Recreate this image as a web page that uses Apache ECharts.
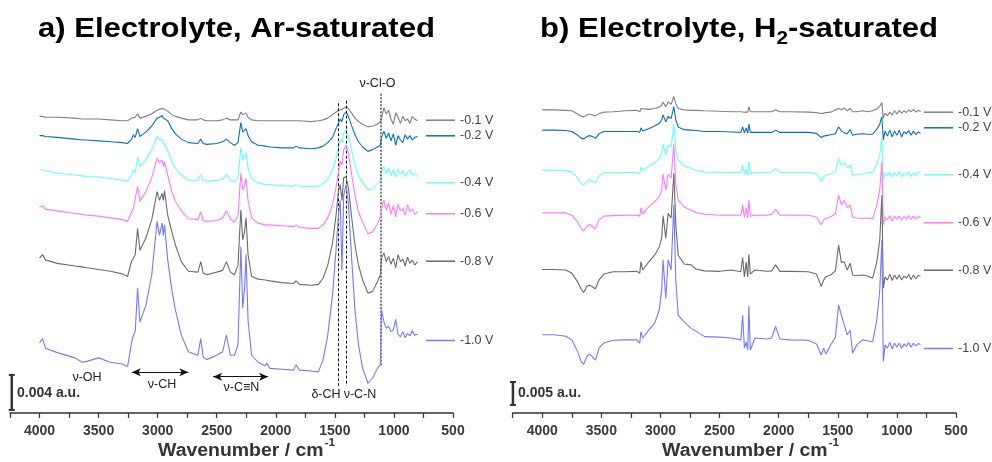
<!DOCTYPE html>
<html>
<head>
<meta charset="utf-8">
<script src="https://cdn.jsdelivr.net/npm/echarts@6/dist/echarts.min.js"></script>
<style>
  html, body { margin: 0; padding: 0; background: #fff; }
  #chart { width: 992px; height: 462px; }
</style>
</head>
<body>
<div id="chart"></div>
<script>
// ---------- Spectra data (absorbance in mAU, stacked with offsets) ----------
// a) Ar-saturated electrolyte: wavenumber grid (cm^-1)
const wnAr = [4000,3975,3950,3850,3700,3640,3600,3500,3400,3300,3255,3220,3205,3190,3170,3150,3100,3050,3005,2985,2962,2952,2942,2915,2880,2850,2800,2740,2660,2635,2615,2585,2500,2450,2418,2385,2350,2320,2296,2280,2265,2252,2235,2205,2150,2090,2076,2050,1950,1850,1828,1800,1700,1640,1600,1560,1520,1490,1470,1455,1440,1425,1405,1385,1360,1330,1300,1265,1220,1180,1140,1115,1105,1085,1065,1045,1025,1005,985,965,945,925,905,885,865,845,825,800];

const ar_m01 = [33.9,33.9,33.8,33.8,33.7,33.6,33.6,33.6,33.5,33.4,33.4,
  33.7,33.9,33.8,34.2,33.7,33.9,34.2,
  34.6,34.7,34.8,34.7,34.7,34.5,34.1,
  33.9,33.7,33.5,33.5,33.7,33.5,33.4,
  33.4,33.5,33.7,33.5,33.5,33.5,
  34.4,34.1,34.0,34.3,33.8,33.5,
  33.4,33.4,33.4,33.4,33.4,33.4,33.4,33.4,33.3,33.4,
  33.5,33.7,34.1,34.4,34.6,34.7,34.7,34.9,35.0,
  34.8,34.3,33.7,33.3,33.0,32.7,32.8,33.0,33.3,33.7,
  34.9,34.2,34.6,33.6,33.0,34.3,33.8,33.1,33.9,33.4,33.6,33.1,33.9,33.6,33.4];

const ar_m02 = [31.7,31.7,31.6,31.5,31.3,31.2,31.2,31.1,31.0,30.9,30.8,
  31.3,31.8,31.5,32.5,31.6,32.1,32.8,
  33.7,33.8,34.0,33.7,33.9,33.4,32.5,
  31.9,31.3,30.9,30.8,31.3,30.8,30.7,
  30.8,31.0,31.3,30.9,30.6,30.9,
  33.2,32.1,32.2,32.5,31.7,31.0,
  30.6,30.5,30.6,30.4,30.3,30.3,30.5,30.3,30.2,30.3,
  30.5,30.9,31.5,32.5,33.1,33.6,33.3,34.1,34.4,
  33.9,32.9,31.8,31.0,30.4,29.9,30.1,30.4,30.6,31.5,
  32.2,31.4,32.0,31.1,31.9,30.6,31.7,31.2,30.9,31.8,31.3,31.7,31.2,31.5,31.6];

const ar_m04 = [27.8,27.8,27.7,27.4,27.2,27.1,27.0,27.0,26.8,26.6,26.5,
  27.2,27.8,27.5,29.2,28.2,28.9,30.1,
  31.6,31.2,31.3,30.9,31.0,30.1,28.7,
  28.0,27.2,26.6,26.6,27.3,26.6,26.5,
  26.6,26.7,27.3,26.6,26.4,26.9,
  30.3,28.9,29.1,29.7,28.0,26.8,
  26.3,26.1,26.2,26.1,26.0,25.9,26.1,25.9,25.9,25.9,
  26.2,26.7,27.8,29.1,30.3,31.2,30.9,32.0,32.3,
  31.7,30.1,28.3,27.1,26.3,25.5,25.6,26.2,26.6,27.6,
  28.2,27.4,28.0,27.1,27.8,26.9,27.9,27.3,27.7,27.0,27.5,27.8,27.2,27.4,27.0];

const ar_m06 = [23.5,23.7,23.3,23.1,22.8,22.7,22.6,22.5,22.3,22.1,21.9,
  23.0,23.4,23.2,25.9,24.2,25.3,26.9,
  29.1,28.6,28.9,28.2,28.7,27.2,25.3,
  24.2,23.1,22.2,22.1,23.0,22.0,21.9,
  22.0,22.3,23.1,22.2,21.8,22.5,
  27.4,25.5,25.9,26.8,24.3,22.3,
  21.7,21.5,21.7,21.5,21.4,21.3,21.5,21.2,21.1,21.1,
  21.5,22.3,23.8,25.8,27.5,28.8,28.3,30.1,30.6,
  29.7,27.4,24.9,23.0,21.8,20.5,20.7,21.6,22.4,23.4,
  24.3,23.2,24.0,22.7,23.7,22.4,23.9,23.1,23.4,22.6,23.8,23.0,23.3,22.7,23.0];

const ar_m08 = [17.7,18.1,17.5,17.1,16.8,16.7,16.6,16.4,16.2,15.9,15.6,
  17.4,17.7,18.1,21.1,18.6,20.0,22.1,
  25.3,24.3,25.1,24.3,25.4,22.6,20.7,
  19.2,17.3,16.2,16.1,17.3,16.0,15.8,
  16.1,16.3,17.3,16.1,15.8,16.9,
  23.2,19.8,20.7,22.3,18.1,15.6,
  15.3,15.2,15.4,15.1,14.9,14.8,15.1,14.7,14.6,14.7,
  15.4,16.9,19.4,22.6,25.3,26.1,24.3,26.9,27.0,
  25.7,22.6,19.2,16.9,15.2,13.7,13.9,15.0,15.8,17.7,
  18.3,17.3,17.9,17.0,17.7,16.6,18.1,17.3,17.6,16.8,17.8,17.1,17.5,16.9,17.3];

const ar_m10 = [8.0,8.5,7.4,6.9,6.3,5.8,5.9,6.3,5.8,5.6,5.3,
  8.1,8.9,9.3,14.3,10.4,12.3,15.8,
  21.9,20.3,21.7,20.3,21.5,17.5,14.1,
  11.8,8.9,7.0,6.6,8.5,6.4,6.1,
  6.6,7.0,8.9,6.6,6.6,7.8,
  19.0,12.0,14.1,18.1,10.6,6.6,
  5.8,5.4,5.7,5.1,5.0,4.9,5.5,4.9,4.8,4.7,
  6.1,8.9,13.5,18.6,22.6,24.3,16.3,24.9,26.1,
  23.8,18.1,11.8,7.8,5.1,3.4,4.0,5.1,5.5,11.8,
  10.4,9.7,9.9,9.3,9.5,10.7,9.0,8.7,9.3,8.6,9.1,8.8,9.4,8.9,9.0];

// b) H2-saturated electrolyte: wavenumber grid (cm^-1)
const wnH2 = [4000,3900,3800,3750,3700,3670,3650,3620,3600,3575,3550,3520,3480,3400,3300,3200,3175,3165,3150,3100,3050,3010,2990,2978,2955,2935,2910,2887,2870,2850,2800,2740,2700,2627,2500,2400,2320,2305,2290,2275,2262,2252,2240,2200,2100,2060,2026,1990,1900,1750,1680,1640,1620,1600,1560,1520,1493,1470,1445,1420,1395,1375,1340,1290,1250,1205,1170,1145,1127,1115,1100,1080,1060,1040,1020,1000,980,960,940,920,900,880,860,840,820,800];

const h2_m01 = [65.9,65.9,65.8,65.7,65.0,64.5,64.4,64.8,65.0,64.8,
  64.6,65.1,65.4,65.5,65.7,65.8,65.5,66.2,65.8,66.0,
  66.2,66.5,66.9,67.6,66.6,67.6,67.1,68.8,67.2,66.2,
  65.9,65.8,65.8,65.7,65.6,65.5,65.5,65.9,65.4,65.8,
  65.4,66.6,65.5,65.5,65.5,65.5,65.9,65.5,65.5,65.4,
  65.3,65.1,65.2,65.3,65.4,65.9,66.2,65.9,66.3,65.7,
  66.2,65.5,65.5,65.7,65.5,65.7,66.1,66.7,67.5,64.1,
  65.2,64.6,65.4,64.8,65.7,65.0,65.8,65.2,65.7,65.3,
  65.9,65.5,66.0,65.4,65.8,65.5];

const h2_m02 = [61.5,61.5,61.4,61.2,60.4,59.7,59.6,60.1,60.3,60.1,
  59.7,60.7,61.2,61.2,61.2,61.2,61.0,62.0,61.3,61.8,
  62.4,63.0,63.7,64.8,63.3,64.5,64.0,66.6,63.7,62.2,
  61.6,61.5,61.4,61.2,61.2,61.1,61.0,62.2,60.9,62.0,
  60.8,62.8,61.0,61.0,61.0,61.0,61.5,61.0,61.0,61.0,
  60.8,59.9,60.2,60.3,60.5,60.7,62.2,61.3,60.9,60.7,
  61.6,60.4,60.6,60.7,60.6,60.6,61.7,62.8,64.4,59.4,
  61.3,60.2,61.5,60.0,61.3,60.4,61.5,60.0,61.1,60.7,
  61.4,60.4,61.3,60.5,61.1,60.8];

const h2_m04 = [52.8,52.8,52.7,52.4,51.1,49.8,49.6,50.4,50.7,50.3,
  50.1,51.5,52.2,52.3,52.3,52.3,52.1,53.5,52.6,53.7,
  54.3,55.4,56.5,58.4,56.1,58.3,57.8,62.8,57.2,55.0,
  53.7,53.2,52.7,52.4,52.3,52.3,52.3,53.9,51.9,53.0,
  51.7,54.8,52.1,52.3,52.3,52.4,53.2,52.3,52.3,52.3,
  52.0,50.4,51.3,51.7,52.0,52.4,55.4,53.9,54.4,53.3,
  53.9,51.7,51.9,51.9,52.2,52.4,54.1,56.1,59.7,50.7,
  52.2,51.5,52.4,51.3,52.2,51.6,52.4,51.3,52.1,51.7,
  52.4,51.4,52.2,51.6,52.3,52.1];

const h2_m06 = [43.5,43.5,43.5,43.0,41.5,40.0,39.6,40.7,41.0,40.5,
  40.0,42.0,42.8,42.9,43.0,43.0,42.8,44.6,43.3,44.8,
  45.9,47.0,48.3,51.9,48.5,51.9,51.1,58.4,49.6,46.3,
  44.8,44.1,43.6,43.2,43.0,43.0,43.0,45.2,42.6,44.6,
  42.4,46.3,42.8,43.0,43.0,43.2,44.3,43.0,43.0,43.0,
  42.6,40.9,42.0,42.3,42.6,43.3,47.4,45.2,46.3,44.6,
  45.2,42.6,42.4,42.3,42.4,42.2,45.2,48.5,54.6,40.9,
  42.6,42.0,42.9,41.7,42.8,42.1,42.8,41.9,42.7,42.2,
  42.9,42.1,42.8,42.2,42.7,42.5];

const h2_m08 = [31.2,31.2,31.1,30.4,28.5,26.9,26.2,27.6,27.8,27.4,
  27.0,28.9,30.2,30.7,30.7,30.8,30.4,32.9,31.1,32.8,
  34.3,36.1,38.0,42.9,38.0,43.4,42.4,52.1,40.9,34.3,
  32.4,32.2,31.3,30.9,30.8,31.1,30.7,33.8,29.6,32.8,
  29.6,34.5,30.2,31.1,30.8,30.9,32.2,30.8,30.8,30.7,
  30.2,27.5,28.9,29.6,30.0,30.9,36.5,32.8,32.8,31.1,
  32.6,30.0,29.9,30.0,29.8,29.3,32.8,37.6,47.4,27.1,
  29.6,28.9,30.2,28.8,30.0,29.1,30.0,28.9,29.8,29.3,
  30.1,29.0,30.0,29.2,29.9,29.8];

const h2_m10 = [17.0,17.0,16.7,15.9,13.3,11.1,10.6,12.4,12.8,12.2,
  11.5,14.1,15.2,15.8,15.9,15.9,15.2,17.7,16.3,18.0,
  19.5,22.4,26.7,33.3,24.9,33.3,31.1,45.2,28.9,21.3,
  19.8,18.4,17.8,16.6,16.5,16.3,15.9,21.3,14.1,15.4,
  13.7,23.3,13.7,16.3,16.1,16.3,18.8,16.1,15.9,15.8,
  15.0,12.6,14.1,12.8,14.8,16.5,23.5,21.3,19.1,17.0,
  18.0,13.0,14.8,15.9,15.7,15.5,20.2,26.7,37.6,11.2,
  14.8,14.1,15.4,13.9,15.2,14.3,15.2,14.1,15.0,14.5,
  15.3,14.3,15.2,14.6,15.1,14.9];

// Potentials (legend labels)
const potentials = ['-0.1 V', '-0.2 V', '-0.4 V', '-0.6 V', '-0.8 V', '-1.0 V'];
const arSpectra = [ar_m01, ar_m02, ar_m04, ar_m06, ar_m08, ar_m10];
const h2Spectra = [h2_m01, h2_m02, h2_m04, h2_m06, h2_m08, h2_m10];

// Band marker positions (cm^-1) and scale-bar lengths (mAU)
const bandDeltaCH = 1470, bandNuCN = 1402, bandNuClO = 1108;
const scaleAr = 4, scaleH2 = 5;

// ---------- Styling / layout ----------
const FONT = '"Liberation Sans", Arial, Helvetica, sans-serif';
const colors = ['#808080', '#0a72b8', '#66ffff', '#ff77ff', '#6b6b6b', '#7777ff'];
const legendMidAr = [120.7, 136.3, 183.3, 214.3, 261.7, 341];
const legendMidH2 = [112.7, 128.3, 175.3, 223.3, 270.7, 349];

const ctx = document.createElement('canvas').getContext('2d');
function textWidth(str, font) { ctx.font = font; return ctx.measureText(str).width; }

function xAxisFor(i) {
  return {
    gridIndex: i, type: 'value', min: 500, max: 4250, interval: 250, inverse: true,
    axisLine: { show: true, onZero: false, lineStyle: { color: '#333', width: 1.5 } },
    axisTick: { show: true, inside: false, length: 5, lineStyle: { color: '#333', width: 1.2 } },
    minorTick: { show: false },
    splitLine: { show: false },
    axisLabel: {
      margin: 11, color: '#3a3a3a', fontWeight: 'bold', fontSize: 14, fontFamily: FONT,
      formatter: v => (v % 500 === 0 && v <= 4000) ? String(v) : ''
    }
  };
}

const series = [];
const legends = [];
function addPanel(tag, wn, spectra, axisIdx, legendMid, legendLeft) {
  spectra.forEach((vals, k) => {
    const name = tag + ' ' + potentials[k];
    series.push({
      name, type: 'line', xAxisIndex: axisIdx, yAxisIndex: axisIdx,
      data: wn.map((w, j) => [w, vals[j]]),
      symbol: 'none', showSymbol: false, smooth: false, silent: true,
      lineStyle: { color: colors[k], width: 1.1 }, itemStyle: { color: colors[k] },
      z: 2 + k
    });
    legends.push({
      data: [{ name, icon: 'rect' }], left: legendLeft, top: legendMid[k] - 7, padding: 0,
      itemWidth: 29, itemHeight: 1.5, selectedMode: false,
      itemStyle: { color: colors[k], borderWidth: 0 },
      formatter: () => potentials[k],
      textStyle: { color: '#444', fontSize: 12.5, fontFamily: FONT }
    });
  });
}
addPanel('Ar', wnAr, arSpectra, 0, legendMidAr, 426);
addPanel('H2', wnH2, h2Spectra, 1, legendMidH2, 924);

// Band guide lines and arrows (panel a)
series.push({
  name: 'guides', type: 'line', xAxisIndex: 0, yAxisIndex: 0, data: [], silent: true,
  markLine: {
    silent: true, symbol: 'none', animation: false, label: { show: false },
    data: [
      [{ coord: [bandDeltaCH, 35.4], lineStyle: { color: '#111', width: 1, type: [3, 2] } }, { coord: [bandDeltaCH, 3.1] }],
      [{ coord: [bandNuCN, 35.7], lineStyle: { color: '#111', width: 1, type: [3, 2] } }, { coord: [bandNuCN, 3.1] }],
      [{ coord: [bandNuClO, 36.5], lineStyle: { color: '#555', width: 1.6, type: [2, 1.5] } }, { coord: [bandNuClO, 5.4] }],
      [{ coord: [3219, 4.65], symbol: 'arrow', lineStyle: { color: '#111', width: 1.2, type: 'solid' } }, { coord: [2740, 4.65], symbol: 'arrow' }],
      [{ coord: [2531, 4.15], symbol: 'arrow', lineStyle: { color: '#111', width: 1.2, type: 'solid' } }, { coord: [2065, 4.15], symbol: 'arrow' }]
    ],
    symbolSize: [6, 9]
  }
});

// Scale bars
function scaleBar(axisIdx, x, y0, len) {
  return {
    name: 'scale' + axisIdx, type: 'line', xAxisIndex: axisIdx, yAxisIndex: axisIdx,
    data: [[x, y0], [x, y0 + len]], clip: false, silent: true,
    symbol: 'rect', symbolSize: [6, 2], showSymbol: true,
    lineStyle: { color: '#333', width: 2.5 }, itemStyle: { color: '#333' }, z: 10
  };
}
series.push(scaleBar(0, 4235, 0.35, scaleAr));
series.push(scaleBar(1, 4248, 1.74, scaleH2));

// ---------- Text elements ----------
const titleFont = `bold 27px ${FONT}`;
const subFont = `bold 18px ${FONT}`;
const titleScale = 1.15;
const nameFont = `bold 18px ${FONT}`;
const nameScale = 1.08;
const supFont = `bold 11px ${FONT}`;
const annFont = `12.5px ${FONT}`;

function txt(x, y, text, font, style, sx) {
  return {
    type: 'text', x, y, silent: true, scaleX: sx || 1,
    style: Object.assign({ text, font, fill: '#000', align: 'left', verticalAlign: 'middle' }, style || {})
  };
}

const graphics = [];
// titles
graphics.push(txt(38, 30, 'a) Electrolyte, Ar-saturated', titleFont, null, titleScale));
{
  const p1 = 'b) Electrolyte, H';
  const w1 = textWidth(p1, titleFont) * titleScale;
  const w2 = textWidth('2', subFont) * titleScale;
  graphics.push(txt(540, 30, p1, titleFont, null, titleScale));
  graphics.push(txt(540 + w1, 39, '2', subFont, null, titleScale));
  graphics.push(txt(540 + w1 + w2, 30, '-saturated', titleFont, null, titleScale));
}
// axis titles
[158, 662].forEach(x0 => {
  const w = textWidth('Wavenumber / cm', nameFont) * nameScale;
  graphics.push(txt(x0, 451, 'Wavenumber / cm', nameFont, { fill: '#333' }, nameScale));
  graphics.push(txt(x0 + w + 1, 443, '-1', supFont, { fill: '#333' }, nameScale));
});
// band labels (panel a)
const annot = [
  [87, 378, 'ν-OH'], [162, 385, 'ν-CH'], [241.5, 388, 'ν-C≡N'],
  [326, 395, 'δ-CH'], [360, 395, 'ν-C-N'], [377.5, 83.5, 'ν-Cl-O']
];
annot.forEach(([x, y, t]) => graphics.push(txt(x, y, t, annFont, { align: 'center', fill: '#222' })));
// scale bar labels
graphics.push(txt(17, 393, '0.004 a.u.', `bold 14px ${FONT}`, { fill: '#333' }));
graphics.push(txt(518, 393, '0.005 a.u.', `bold 14px ${FONT}`, { fill: '#333' }));

const chart = echarts.init(document.getElementById('chart'), null, { renderer: 'canvas' });
chart.setOption({
  animation: false,
  backgroundColor: '#fff',
  grid: [
    { left: 10, top: 63, width: 443, height: 350 },
    { left: 512.7, top: 63, width: 443.3, height: 350 }
  ],
  xAxis: [xAxisFor(0), xAxisFor(1)],
  yAxis: [
    { gridIndex: 0, type: 'value', min: 0, max: 40, show: false },
    { gridIndex: 1, type: 'value', min: 0, max: 76.09, show: false }
  ],
  legend: legends,
  graphic: graphics,
  series
});
</script>
</body>
</html>
